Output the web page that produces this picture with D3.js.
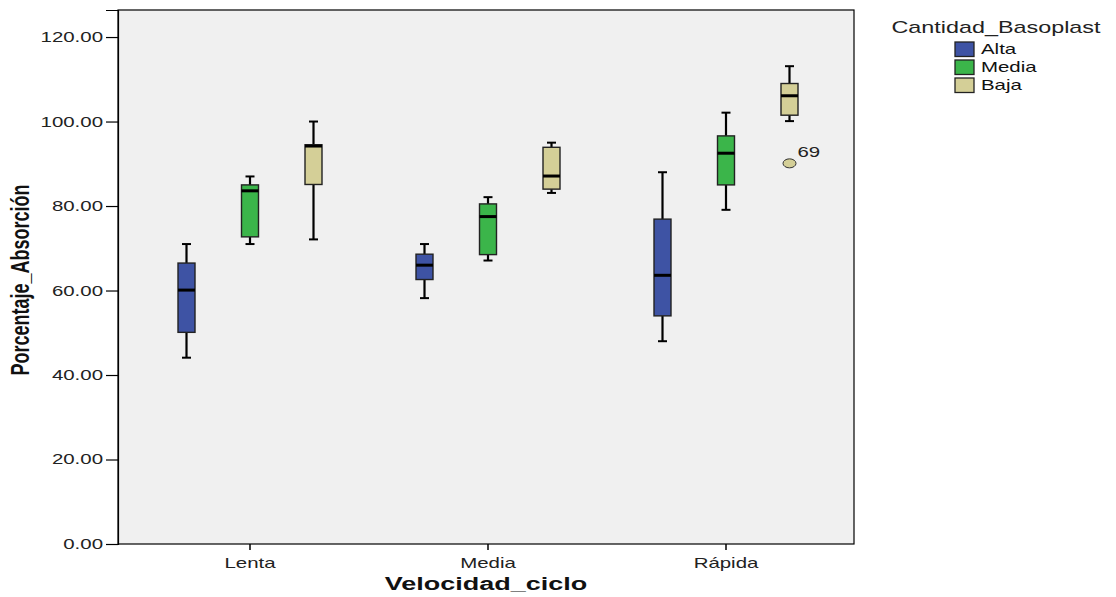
<!DOCTYPE html>
<html><head><meta charset="utf-8">
<script src="https://cdn.jsdelivr.net/npm/d3@7"></script>
<style>
html,body{margin:0;padding:0;background:#fff;}
svg{display:block;}
</style></head>
<body>
<svg id="chart" width="1116" height="597"></svg>
<script>
// ---- data ----
const categories = ["Lenta", "Media", "Rápida"];
const groups = ["Alta", "Media", "Baja"];
const groupColors = ["#3e53a4", "#3bb54a", "#d4cf97"];
// [whiskerLow, q1, median, q3, whiskerHigh] per category
const altaStats  = [[44.1, 50.1, 60.1, 66.5, 71.0], [58.2, 62.6, 66.0, 68.6, 71.0], [48.0, 54.0, 63.6, 76.9, 88.0]];
const mediaStats = [[71.0, 72.7, 83.6, 85.0, 87.0], [67.1, 68.5, 77.5, 80.5, 82.1], [79.1, 85.0, 92.5, 96.6, 102.1]];
const bajaStats  = [[72.1, 85.1, 94.2, 94.5, 100.0], [83.1, 84.0, 87.1, 93.9, 95.0], [100.1, 101.5, 106.1, 109.0, 113.1]];
const outliers = [{category: "Rápida", group: "Baja", value: 90.1, label: "69"}];
const yTicks = [0, 20, 40, 60, 80, 100, 120];
const yMax = 126.4;

const statsByGroup = {Alta: altaStats, Media: mediaStats, Baja: bajaStats};

const svg = d3.select("#chart");
const plot = {left: 118, right: 854, top: 10, bottom: 544};
const SX = 1.46; // horizontal stretch of text as in reference
const FONT = "Liberation Sans, Arial, sans-serif";

function stretch(sel) {
  sel.each(function() {
    const t = d3.select(this);
    const xx = +t.attr("x") || 0, yy = +t.attr("y") || 0;
    t.attr("x", 0).attr("y", 0).attr("transform", `translate(${xx},${yy}) scale(${SX},1)`);
  });
}

const x = d3.scaleBand().domain(categories).range([131, 845]).padding(0);
const xg = d3.scalePoint().domain(groups).range([-63.5, 63.5]);
const y = d3.scaleLinear().domain([0, yMax]).range([plot.bottom, plot.top]);
const color = d3.scaleOrdinal().domain(groups).range(groupColors);

// plot background
svg.append("rect").attr("x", plot.left).attr("y", plot.top)
  .attr("width", plot.right - plot.left).attr("height", plot.bottom - plot.top)
  .attr("fill", "#f0f0f0").attr("stroke", "#000").attr("stroke-width", 1.2);

// y axis
const yAxis = svg.append("g").attr("transform", `translate(${plot.left},0)`)
  .call(d3.axisLeft(y).tickValues(yTicks).tickFormat(d3.format(".2f")).tickSize(12).tickPadding(3));
yAxis.select(".domain").attr("stroke", "#000").attr("stroke-width", 1.2);
yAxis.selectAll(".tick line").attr("stroke", "#000").attr("stroke-width", 1.2);
yAxis.selectAll("text").attr("font-family", FONT).attr("font-size", 14).attr("fill", "#222").call(stretch);

// x axis
const xAxis = svg.append("g").attr("transform", `translate(0,${plot.bottom})`)
  .call(d3.axisBottom(x).tickSize(6).tickPadding(8).tickSizeOuter(0));
xAxis.select(".domain").remove();
xAxis.selectAll(".tick line").attr("stroke", "#000").attr("stroke-width", 1.5);
xAxis.selectAll("text").attr("font-family", FONT).attr("font-size", 14).attr("fill", "#222").call(stretch);

// boxes
const boxW = 17, capW = 9;
categories.forEach((cat, ci) => {
  groups.forEach(g => {
    const s = statsByGroup[g][ci];
    const cx = x(cat) + x.bandwidth() / 2 + xg(g);
    const gg = svg.append("g");
    gg.append("line").attr("x1", cx).attr("x2", cx).attr("y1", y(s[0])).attr("y2", y(s[1]))
      .attr("stroke", "#000").attr("stroke-width", 2.2);
    gg.append("line").attr("x1", cx).attr("x2", cx).attr("y1", y(s[3])).attr("y2", y(s[4]))
      .attr("stroke", "#000").attr("stroke-width", 2.2);
    [s[0], s[4]].forEach(v => gg.append("line").attr("x1", cx - capW / 2).attr("x2", cx + capW / 2)
      .attr("y1", y(v)).attr("y2", y(v)).attr("stroke", "#000").attr("stroke-width", 2));
    gg.append("rect").attr("x", cx - boxW / 2).attr("y", y(s[3]))
      .attr("width", boxW).attr("height", y(s[1]) - y(s[3]))
      .attr("fill", color(g)).attr("stroke", "#222").attr("stroke-width", 1.4);
    gg.append("line").attr("x1", cx - boxW / 2).attr("x2", cx + boxW / 2)
      .attr("y1", y(s[2])).attr("y2", y(s[2])).attr("stroke", "#000").attr("stroke-width", 3);
  });
});

// outliers
outliers.forEach(o => {
  const cx = x(o.category) + x.bandwidth() / 2 + xg(o.group);
  svg.append("ellipse").attr("cx", cx).attr("cy", y(o.value)).attr("rx", 6.5).attr("ry", 4.5)
    .attr("fill", color(o.group)).attr("stroke", "#333").attr("stroke-width", 1);
  svg.append("text").attr("x", cx + 8).attr("y", y(o.value) - 6).text(o.label)
    .attr("font-family", FONT).attr("font-size", 14).attr("fill", "#222").call(stretch);
});

// axis titles
svg.append("text").attr("x", 486).attr("y", 590).attr("text-anchor", "middle")
  .attr("font-family", FONT).attr("font-weight", "bold")
  .attr("font-size", 18.5).attr("fill", "#111").text("Velocidad_ciclo").call(stretch);
svg.append("text").attr("transform", `translate(29,280) scale(${SX},1) rotate(-90)`).attr("text-anchor", "middle")
  .attr("font-family", FONT).attr("font-weight", "bold")
  .attr("font-size", 18).attr("fill", "#111").text("Porcentaje_Absorción");

// legend
const legend = svg.append("g");
legend.append("text").attr("x", 996).attr("y", 33).attr("text-anchor", "middle")
  .attr("font-family", FONT).attr("font-size", 16).attr("fill", "#222")
  .text("Cantidad_Basoplast").call(stretch);
groups.forEach((g, i) => {
  const ly = 42 + i * 18;
  legend.append("rect").attr("x", 955).attr("y", ly).attr("width", 19).attr("height", 14.5)
    .attr("fill", color(g)).attr("stroke", "#222").attr("stroke-width", 1.3);
  legend.append("text").attr("x", 981).attr("y", ly + 12).text(g)
    .attr("font-family", FONT).attr("font-size", 14).attr("fill", "#111").call(stretch);
});
</script>
</body></html>
